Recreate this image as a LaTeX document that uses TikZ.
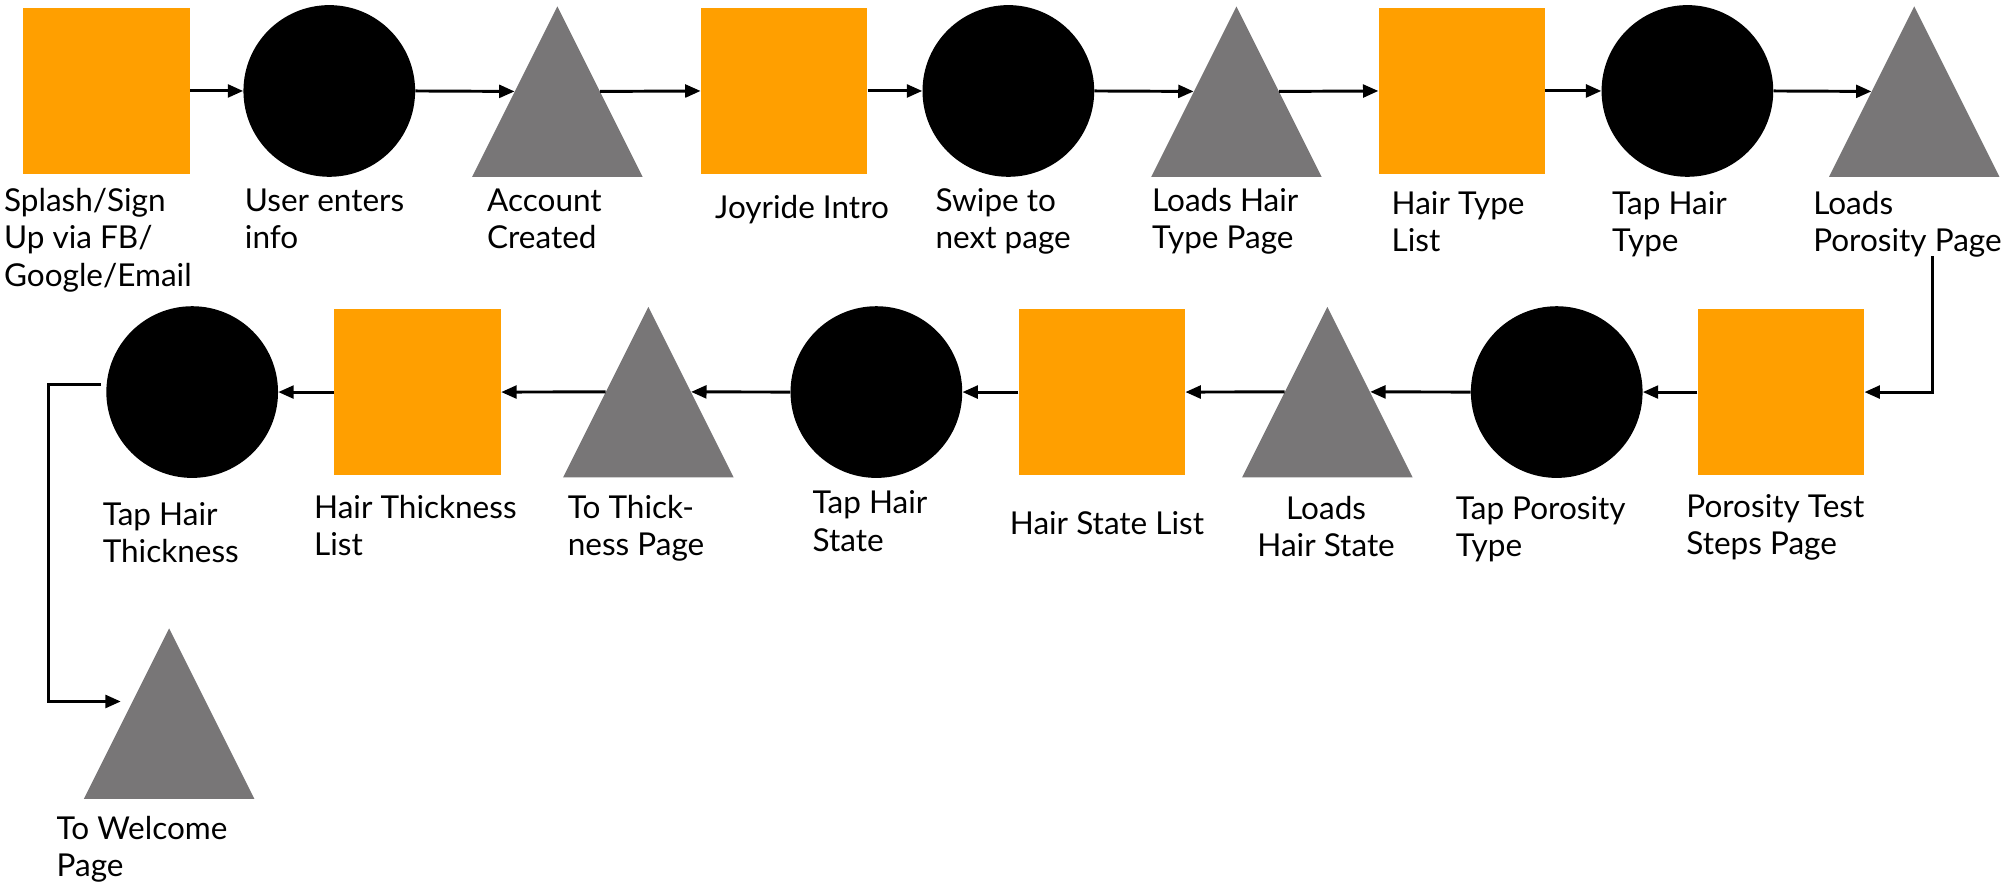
\documentclass[tikz,border=0pt]{standalone}
\usepackage{fontspec}
\setmainfont{Lato}
\usetikzlibrary{shapes.geometric,arrows.meta,calc}
\definecolor{boxorange}{HTML}{FF9F00}
\definecolor{trigray}{HTML}{787677}
\begin{document}
\begin{tikzpicture}[x=1pt,y=-1pt,
  sq/.style={rectangle,fill=boxorange,draw=none,minimum width=130pt,minimum height=129pt,inner sep=0pt},
  dot/.style={circle,fill=black,draw=none,minimum size=134pt,inner sep=0pt},
  tri/.style={isosceles triangle,isosceles triangle stretches,shape border rotate=90,fill=trigray,draw=none,minimum width=133pt,minimum height=133pt,inner sep=0pt,anchor=apex},
  lbl/.style={anchor=north west,align=left,inner sep=0pt,font=\fontsize{24.6}{29}\selectfont},
  arr/.style={line width=2.3pt,-{Triangle[length=12pt,width=10pt]}}
]
\useasboundingbox (0,0) rectangle (1568,692);
% row 1
\node[sq] (r1) at (83,71) {};
\node[dot] (c2) at (257,71) {};
\node[tri] (t3) at (435,4.5) {};
\node[sq] (r4) at (612,71) {};
\node[dot] (c5) at (787,71) {};
\node[tri] (t6) at (965,4.5) {};
\node[sq] (r7) at (1141,71) {};
\node[dot] (c8) at (1317,71) {};
\node[tri] (t9) at (1494,4.5) {};
% row 2
\node[sq] (r10) at (1390,306) {};
\node[dot] (c11) at (1215,306) {};
\node[tri] (t12) at (1036,239) {};
\node[sq] (r13) at (860,306) {};
\node[dot] (c14) at (684,306) {};
\node[tri] (t15) at (506,239) {};
\node[sq] (r16) at (326,306) {};
\node[dot] (c17) at (150,306) {};
% row 3
\node[tri] (t18) at (132,490) {};
% labels
\node[lbl] (l1) at (3,147) {Splash/Sign\\Up via FB/\\Google/Email};
\node[lbl] (l2) at (191,147) {User enters\\info};
\node[lbl] (l3) at (380,147) {Account\\Created};
\node[lbl] (l4) at (558,152) {Joyride Intro};
\node[lbl] (l5) at (730,147) {Swipe to\\next page};
\node[lbl] (l6) at (899,147) {Loads Hair\\Type Page};
\node[lbl] (l7) at (1086,149) {Hair Type\\List};
\node[lbl] (l8) at (1258,149) {Tap Hair\\Type};
\node[lbl] (l9) at (1415,149) {Loads\\Porosity Page};
\node[lbl] (l10) at (1316,386) {Porosity Test\\Steps Page};
\node[lbl] (l11) at (1136,387) {Tap Porosity\\Type};
\node[lbl,anchor=north,align=center] (l12) at (1035,387) {Loads\\Hair State};
\node[lbl] (l13) at (788,399) {Hair State List};
\node[lbl] (l14) at (634,383) {Tap Hair\\State};
\node[lbl] (l15) at (443,386) {To Thick-\\ness Page};
\node[lbl] (l16) at (245,386) {Hair Thickness\\List};
\node[lbl] (l17) at (80,392) {Tap Hair\\Thickness};
\node[lbl] (l18) at (44,637) {To Welcome\\Page};
% connectors row 1
\draw[arr] (r1.east) -- (c2.west);
\draw[arr] (c2.east) -- (t3.left side);
\draw[arr] (t3.right side) -- (r4.west);
\draw[arr] (r4.east) -- (c5.west);
\draw[arr] (c5.east) -- (t6.left side);
\draw[arr] (t6.right side) -- (r7.west);
\draw[arr] (r7.east) -- (c8.west);
\draw[arr] (c8.east) -- (t9.left side);
% down to row 2
\coordinate (lp) at (1508,200);
\draw[arr] (lp) |- (r10.east);
% row 2
\draw[arr] (r10.west) -- (c11.east);
\draw[arr] (c11.west) -- (t12.right side);
\draw[arr] (t12.left side) -- (r13.east);
\draw[arr] (r13.west) -- (c14.east);
\draw[arr] (c14.west) -- (t15.right side);
\draw[arr] (t15.left side) -- (r16.east);
\draw[arr] (r16.west) -- (c17.east);
% to row 3
\draw[arr,shorten >=9pt] ([shift={(-4,-6)}]c17.west) -- ++(-41,0) |- ($(t18.apex)!0.43!(t18.left corner)$);
\end{tikzpicture}
\end{document}
